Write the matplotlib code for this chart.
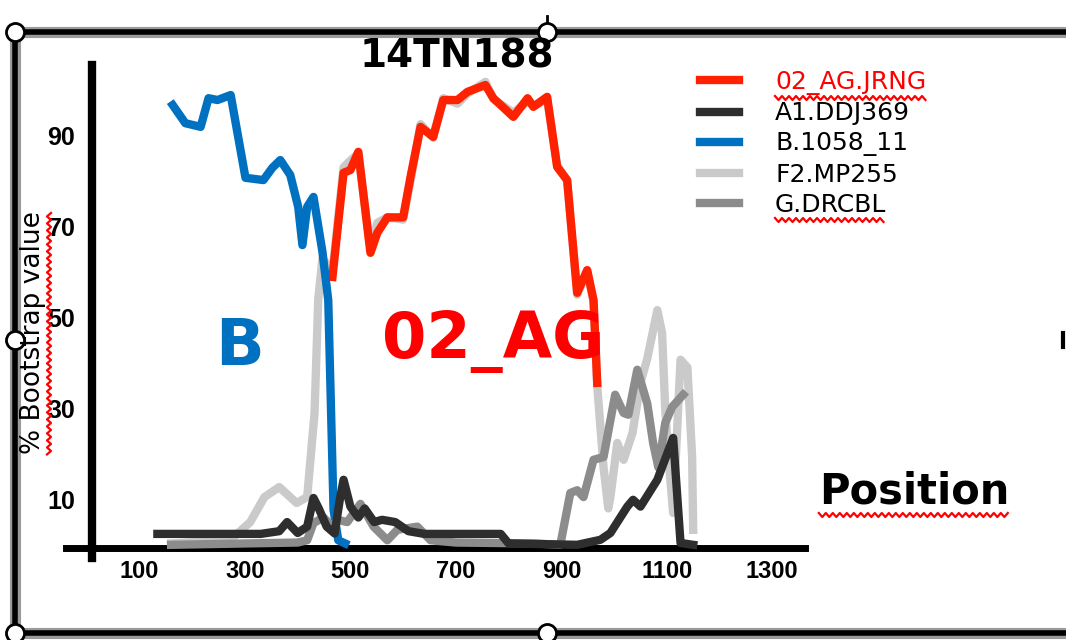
import numpy as np
import matplotlib
matplotlib.use("Agg")
import matplotlib.pyplot as plt
from matplotlib.lines import Line2D
from matplotlib.patches import Rectangle

# bootscan curves: position along the genome, % bootstrap
ag_pos = [466, 487, 500, 515, 538, 551, 570, 600, 614, 633,
          657, 676, 703, 722, 756, 771, 809, 836, 847, 873,
          892, 911, 930, 949, 961, 968]
ag_val = [58.9, 81.8, 82.4, 86.4, 64.2, 68.6, 72, 72, 80.9, 91.9,
          89.7, 97.8, 97.8, 99.6, 101.1, 98.2, 94.1, 98.2, 96.3, 98.5,
          83.1, 80.2, 55.4, 60.4, 53.8, 35.6]

a1_pos = [134, 250, 330, 365, 380, 400, 418, 430, 440, 455,
          470, 480, 487, 500, 515, 527, 545, 560, 585, 610,
          640, 785, 800, 930, 974, 993, 1025, 1036, 1050, 1082,
          1112, 1126, 1150]
a1_val = [2.4, 2.4, 2.4, 3, 5, 2.6, 4, 10.3, 8, 4,
          2.5, 10, 14.3, 8.4, 6, 8, 5, 5.5, 5, 3,
          2.4, 2.4, 0.3, 0, 1.1, 2.6, 8.4, 9.9, 8.4, 14.3,
          23.5, 0.4, 0]

b_pos = [163, 187, 216, 231, 248, 273, 301, 335, 352, 367,
         386, 401, 409, 418, 430, 447, 458, 468, 477, 490]
b_val = [96.7, 92.7, 91.9, 98.2, 97.8, 98.9, 80.7, 80.2, 82.9, 84.6,
         81.3, 74.3, 65.9, 74.3, 76.5, 64.4, 53.8, 7.7, 1.0, 0.3]

f2_pos = [160, 272, 310, 337, 365, 398, 418, 432, 439, 447,
          466, 487, 500, 515, 538, 551, 570, 600, 614, 633,
          657, 676, 703, 722, 756, 771, 809, 836, 847, 873,
          892, 911, 930, 949, 961, 968, 980, 989, 993, 1006,
          1018, 1035, 1050, 1063, 1082, 1091, 1097, 1103, 1112, 1126,
          1139, 1148, 1150]
f2_val = [0.3, 1, 5, 10.5, 12.7, 9.2, 10.5, 29, 54, 63,
          60, 83, 84.5, 86, 65, 70.8, 72, 71.5, 80, 92.5,
          89.5, 98.2, 97, 99.2, 101.8, 98, 95, 97.5, 96.5, 98,
          83.5, 80, 55, 60, 53.5, 35, 17, 8, 10.5, 22.4,
          18.7, 24.6, 35.6, 41, 51.6, 46.6, 29.7, 19.3, 7, 40.7,
          39, 19.3, 3.3]

g_pos = [160, 300, 400, 418, 430, 449, 466, 475, 494, 519,
         544, 570, 589, 627, 652, 700, 850, 898, 917, 930,
         942, 961, 980, 1002, 1018, 1027, 1044, 1063, 1074, 1084,
         1097, 1110, 1131]
g_val = [0, 0.3, 0.5, 1, 4.8, 6, 4, 5.5, 5, 9,
         4, 1, 3.3, 4, 1, 0.5, 0.3, 0, 11.4, 12,
         10.5, 18.7, 19.3, 33, 29, 28.6, 38.5, 31, 22.4, 17,
         26.8, 30.3, 33]

x_ticks = [100, 300, 500, 700, 900, 1100, 1300]
y_ticks = [10, 30, 50, 70, 90]

W, H = 1066, 640
fig = plt.figure(figsize=(W / 100, H / 100), dpi=100)
ax = fig.add_axes([92 / W, 1 - 548 / H, (805 - 92) / W, (548 - 65) / H])
ax.set_xlim(10, 1362)
ax.set_ylim(-0.7, 105.5)

for s in ["top", "right"]:
    ax.spines[s].set_visible(False)
ax.spines["left"].set_linewidth(6)
ax.spines["bottom"].set_linewidth(5)
ax.spines["left"].set_bounds(-3, 105.5)
ax.spines["bottom"].set_bounds(-40, 1362)

ax.set_xticks(x_ticks)
ax.set_xticklabels([str(t) for t in x_ticks], fontsize=17, fontweight="bold",
                   family="Liberation Sans")
ax.set_yticks(y_ticks)
ax.set_yticklabels([str(t) for t in y_ticks], fontsize=18, fontweight="bold",
                   family="Liberation Sans")
ax.tick_params(axis="x", length=0, pad=9)
ax.tick_params(axis="y", length=0, pad=12)

lw = 6
l_ag, = ax.plot(ag_pos, ag_val, color="#FF2200", lw=lw, zorder=3, clip_on=False)
l_a1, = ax.plot(a1_pos, a1_val, color="#2E2E2E", lw=lw, zorder=6, clip_on=False)
l_b, = ax.plot(b_pos, b_val, color="#0070C0", lw=lw, zorder=4, clip_on=False)
l_f2, = ax.plot(f2_pos, f2_val, color="#CACACA", lw=lw, zorder=2, clip_on=False)
l_g, = ax.plot(g_pos, g_val, color="#8C8C8C", lw=lw, zorder=5, clip_on=False)

leg = ax.legend([l_ag, l_a1, l_b, l_f2, l_g],
                ["02_AG.JRNG", "A1.DDJ369", "B.1058_11", "F2.MP255", "G.DRCBL"],
                loc="upper left", bbox_to_anchor=(700 / W, 1 - 70 / H),
                bbox_transform=fig.transFigure, frameon=False, fontsize=18,
                labelspacing=0.25, handlelength=1.55, handletextpad=1.45,
                borderpad=0, borderaxespad=0,
                labelcolor=["#FF0000", "black", "black", "black", "black"])

# big subtype labels inside the plot
ax.text(290, 39.6, "B", color="#0070C0", fontsize=46, fontweight="bold",
        ha="center", va="baseline")
ax.text(771, 41.1, "02_AG", color="#FF0000", fontsize=46, fontweight="bold",
        ha="center", va="baseline")

fig.text(457 / W, 1 - 68 / H, "14TN188", fontsize=28, fontweight="bold",
         ha="center", va="baseline")
pos_txt = fig.text(914 / W, 1 - 503 / H, "Position", fontsize=30,
                   fontweight="bold", ha="center", va="baseline")
ylab = fig.text(33 / W, 1 - 333 / H, "% Bootstrap value", rotation=90,
                fontsize=19, ha="center", va="center")

# outer frame with selection handles
fig.add_artist(Rectangle((15 / W, 1 - 633 / H), (1090 - 15) / W, (633 - 32) / H,
                         transform=fig.transFigure, fill=False, lw=8,
                         ec="#9A9A9A", clip_on=False))
fig.add_artist(Rectangle((15 / W, 1 - 633 / H), (1090 - 15) / W, (633 - 32) / H,
                         transform=fig.transFigure, fill=False, lw=4,
                         ec="black", clip_on=False))
fig.add_artist(Line2D([547 / W, 547 / W], [1 - 16 / H, 1 - 26 / H],
                      transform=fig.transFigure, color="black", lw=2))
fig.add_artist(Line2D([1063 / W, 1063 / W], [1 - 333 / H, 1 - 347 / H],
                      transform=fig.transFigure, color="black", lw=3))
for hx, hy in [(15, 32), (547, 32), (15, 340), (15, 633), (547, 633)]:
    fig.add_artist(Line2D([hx / W], [1 - hy / H], marker="o", ms=13,
                          mfc="white", mec="black", mew=2,
                          transform=fig.transFigure))

# red spell-check squiggles under some words
fig.canvas.draw()
renderer = fig.canvas.get_renderer()


def squiggle(txt, vertical=False):
    bb = txt.get_window_extent(renderer)
    if vertical:
        t = np.arange(bb.y0, bb.y1, 3.5)
        off = np.where(np.arange(len(t)) % 2 == 0, 0, 4)
        xs = bb.x1 + 1 + off
        ys = t
    else:
        t = np.arange(bb.x0, bb.x1, 3.5)
        off = np.where(np.arange(len(t)) % 2 == 0, 0, -4)
        xs = t
        ys = bb.y0 - 1 + off
    fig.add_artist(Line2D(xs / W, ys / H, color="red", lw=1.6,
                          transform=fig.transFigure))


squiggle(leg.get_texts()[0])
squiggle(leg.get_texts()[4])
squiggle(pos_txt)
squiggle(ylab, vertical=True)

fig.savefig("out.png", dpi=100)
